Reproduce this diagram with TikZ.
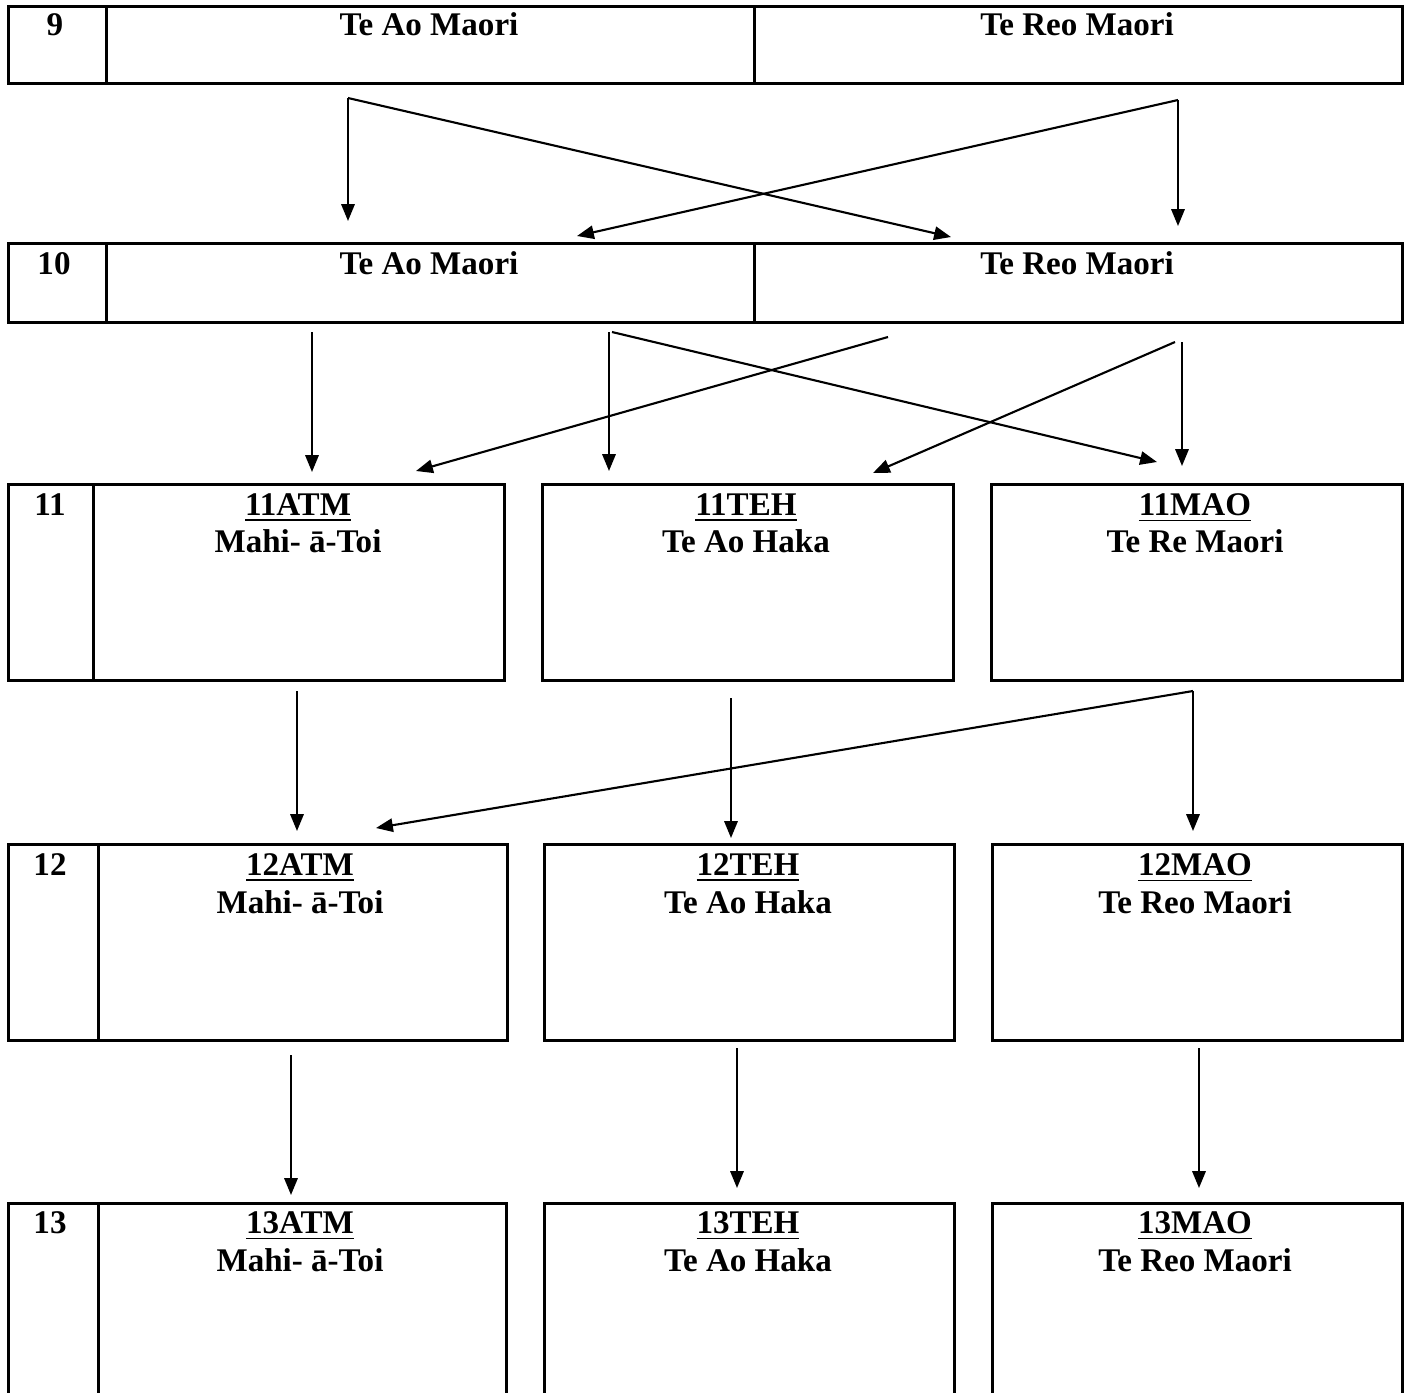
\documentclass[tikz,border=0pt]{standalone}
\usepackage{fontspec}
\setmainfont{Liberation Serif}
\usepackage{tikz}
\usetikzlibrary{arrows.meta}
\tikzset{%
  cell/.style={draw,line width=.85pt,anchor=north west,inner sep=0},
  txt/.style={anchor=base,inner sep=0,font=\fontsize{9.4}{11}\selectfont\bfseries},
  arr/.style={draw,line width=.6pt,-{Triangle[length=4.8pt,width=3.8pt]}}
}
\newcommand{\mahi}{Mahi- \={a}-Toi}

\begin{document}
\begin{tikzpicture}[x=.01cm,y=-.01cm]
    \useasboundingbox (0,0) rectangle (1408,1393);
    \clip (0,0) rectangle (1408,1393);
    % year 9 and 10
    \path
      (7,5) node[cell,minimum width=.98cm,minimum height=.77cm] (y9) {}
      (105,5) node[cell,minimum width=6.48cm,minimum height=.77cm] (ao9) {}
      (753,5) node[cell,minimum width=6.48cm,minimum height=.77cm] (reo9) {}
      (7,242) node[cell,minimum width=.98cm,minimum height=.79cm] (y10) {}
      (105,242) node[cell,minimum width=6.48cm,minimum height=.79cm] (ao10) {}
      (753,242) node[cell,minimum width=6.48cm,minimum height=.79cm] (reo10) {};
    % year 11, 12 and 13
    \path
      (7,483) node[cell,minimum width=.85cm,minimum height=1.96cm] (y11) {}
      (92,483) node[cell,minimum width=4.11cm,minimum height=1.96cm] (atm11) {}
      (541,483) node[cell,minimum width=4.11cm,minimum height=1.96cm] (teh11) {}
      (990,483) node[cell,minimum width=4.11cm,minimum height=1.96cm] (mao11) {}
      (7,843) node[cell,minimum width=.9cm,minimum height=1.96cm] (y12) {}
      (97,843) node[cell,minimum width=4.09cm,minimum height=1.96cm] (atm12) {}
      (543,843) node[cell,minimum width=4.1cm,minimum height=1.96cm] (teh12) {}
      (991,843) node[cell,minimum width=4.1cm,minimum height=1.96cm] (mao12) {}
      (7,1202) node[cell,minimum width=.9cm,minimum height=2.5cm] (y13) {}
      (97,1202) node[cell,minimum width=4.08cm,minimum height=2.5cm] (atm13) {}
      (543,1202) node[cell,minimum width=4.1cm,minimum height=2.5cm] (teh13) {}
      (991,1202) node[cell,minimum width=4.1cm,minimum height=2.5cm] (mao13) {};
    % texts
    \path[every node/.style=txt]
      (55,35) node (t9) {9} (429,35) node (t9ao) {Te Ao Maori} (1077,35) node (t9reo) {Te Reo Maori}
      (54,274) node (t10) {10} (429,274) node (t10ao) {Te Ao Maori} (1077,274) node (t10reo) {Te Reo Maori}
      (50,515) node (t11) {11}
      (298,515) node (t11atm) {\underline{11ATM}} (298,552) node (n11atm) {\mahi}
      (746,515) node (t11teh) {\underline{11TEH}} (746,552) node (n11teh) {Te Ao Haka}
      (1195,515) node (t11mao) {\underline{11MAO}} (1195,552) node (n11mao) {Te Re Maori}
      (50,875) node (t12) {12}
      (300,875) node (t12atm) {\underline{12ATM}} (300,913) node (n12atm) {\mahi}
      (748,875) node (t12teh) {\underline{12TEH}} (748,913) node (n12teh) {Te Ao Haka}
      (1195,875) node (t12mao) {\underline{12MAO}} (1195,913) node (n12mao) {Te Reo Maori}
      (50,1233) node (t13) {13}
      (300,1233) node (t13atm) {\underline{13ATM}} (300,1271) node (n13atm) {\mahi}
      (748,1233) node (t13teh) {\underline{13TEH}} (748,1271) node (n13teh) {Te Ao Haka}
      (1195,1233) node (t13mao) {\underline{13MAO}} (1195,1271) node (n13mao) {Te Reo Maori};
    % arrow ends
    \path
      (348,98) coordinate (a) (348,221) coordinate (a1) (951,237) coordinate (a2)
      (1178,100) coordinate (b) (1178,226) coordinate (b1) (577,236) coordinate (b2)
      (312,332) coordinate (c) (312,472) coordinate (c1)
      (888,337) coordinate (d) (416,471) coordinate (d1)
      (609,332) coordinate (e) (609,471) coordinate (e1)
      (612,332) coordinate (f) (1157,462) coordinate (f1)
      (1175,342) coordinate (g) (873,473) coordinate (g1)
      (1182,342) coordinate (h) (1182,466) coordinate (h1)
      (297,691) coordinate (i) (297,831) coordinate (i1)
      (731,698) coordinate (j) (731,838) coordinate (j1)
      (1193,691) coordinate (k) (376,828) coordinate (k1) (1193,831) coordinate (k2)
      (291,1055) coordinate (l) (291,1195) coordinate (l1)
      (737,1048) coordinate (m) (737,1188) coordinate (m1)
      (1199,1048) coordinate (n) (1199,1188) coordinate (n1);
    \draw[arr] (a) -- (a1);
    \draw[arr] (a) -- (a2);
    \draw[arr] (b) -- (b1);
    \draw[arr] (b) -- (b2);
    \draw[arr] (c) -- (c1);
    \draw[arr] (d) -- (d1);
    \draw[arr] (e) -- (e1);
    \draw[arr] (f) -- (f1);
    \draw[arr] (g) -- (g1);
    \draw[arr] (h) -- (h1);
    \draw[arr] (i) -- (i1);
    \draw[arr] (j) -- (j1);
    \draw[arr] (k) -- (k1);
    \draw[arr] (k) -- (k2);
    \draw[arr] (l) -- (l1);
    \draw[arr] (m) -- (m1);
    \draw[arr] (n) -- (n1);
\end{tikzpicture}
\end{document}
